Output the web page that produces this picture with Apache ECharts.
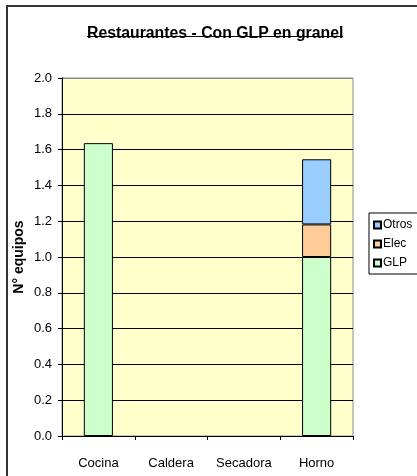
<!DOCTYPE html>
<html>
<head>
<meta charset="utf-8">
<script src="https://cdn.jsdelivr.net/npm/echarts@6/dist/echarts.min.js"></script>
<style>
  html, body { margin: 0; padding: 0; background: #fff; }
  #chart { width: 417px; height: 476px; }
</style>
</head>
<body>
<div id="chart"></div>
<script>
// Equipment categories and number of units per energy source
const categories = ['Cocina', 'Caldera', 'Secadora', 'Horno'];
const glp   = [1.636, 0, 0, 1.0];
const elec  = [0, 0, 0, 0.182];
const otros = [0, 0, 0, 0.364];
const yTicks = ['0.0', '0.2', '0.4', '0.6', '0.8', '1.0', '1.2', '1.4', '1.6', '1.8', '2.0'];

const FONT = '"Liberation Sans", Arial, sans-serif';
const chart = echarts.init(document.getElementById('chart'), null, { renderer: 'canvas' });

// zero values are left out so no empty stacks are drawn
const clean = arr => arr.map(v => (v === 0 ? null : v));

const barStyle = color => ({ color: color, borderColor: '#000', borderWidth: 1 });

// grid lines: black, except the top one which is the grey frame of the plot
const splitColors = yTicks.map((t, i) => (i === yTicks.length - 1 ? '#8c8c8c' : '#000'));

chart.setOption({
  animation: false,
  backgroundColor: '#fff',
  textStyle: { fontFamily: FONT },
  title: {
    text: 'Restaurantes - Con GLP en granel',
    left: 82,
    top: 21,
    textStyle: { fontFamily: FONT, fontSize: 15.8, fontWeight: 'bold', color: '#000' }
  },
  graphic: [
    // outer frame of the chart
    { type: 'rect', shape: { x: 7, y: 6, width: 420, height: 480 },
      style: { fill: null, stroke: '#333', lineWidth: 2 }, silent: true },
    // title underline
    { type: 'line', shape: { x1: 87, y1: 36.5, x2: 343, y2: 36.5 },
      style: { stroke: '#000', lineWidth: 1.2 }, silent: true }
  ],
  legend: {
    orient: 'vertical',
    left: 369,
    top: 213,
    data: ['Otros', 'Elec', 'GLP'],
    itemWidth: 7,
    itemHeight: 7,
    itemGap: 7,
    padding: [6, 14, 5, 4],
    borderColor: '#000',
    borderWidth: 1,
    icon: 'rect',
    textStyle: { fontFamily: FONT, fontSize: 12, color: '#000', padding: [0, 0, 0, -3] }
  },
  grid: {
    left: 62, right: 64, top: 78, bottom: 40,
    show: true,
    backgroundColor: '#FFFFCC',
    borderColor: '#8c8c8c',
    borderWidth: 1
  },
  xAxis: {
    type: 'category',
    data: categories,
    boundaryGap: true,
    axisLine: { lineStyle: { color: '#000', width: 1 } },
    axisTick: { show: true, length: 4, alignWithLabel: false, lineStyle: { color: '#000' } },
    axisLabel: { color: '#000', fontSize: 13, fontFamily: FONT, margin: 21 },
    splitLine: { show: false }
  },
  yAxis: {
    type: 'value',
    min: 0,
    max: 2.0,
    interval: 0.2,
    name: 'N° equipos',
    nameLocation: 'middle',
    nameGap: 36,
    nameMoveOverlap: false,
    nameTextStyle: { fontFamily: FONT, fontSize: 14, fontWeight: 'bold', color: '#000' },
    axisLine: { show: true, lineStyle: { color: '#000', width: 1 } },
    axisTick: { show: true, length: 4, lineStyle: { color: '#000' } },
    axisLabel: {
      color: '#000', fontSize: 13, fontFamily: FONT, margin: 10,
      formatter: v => yTicks[Math.round(v / 0.2)]
    },
    splitLine: { show: true, lineStyle: { color: splitColors, width: 1 } }
  },
  series: [
    { name: 'GLP', type: 'bar', stack: 'eq', data: clean(glp), barWidth: '40%',
      itemStyle: barStyle('#CCFFCC') },
    { name: 'Elec', type: 'bar', stack: 'eq', data: clean(elec), barWidth: '40%',
      itemStyle: barStyle('#FFCC99') },
    { name: 'Otros', type: 'bar', stack: 'eq', data: clean(otros), barWidth: '40%',
      itemStyle: barStyle('#99CCFF') }
  ]
});
</script>
</body>
</html>
